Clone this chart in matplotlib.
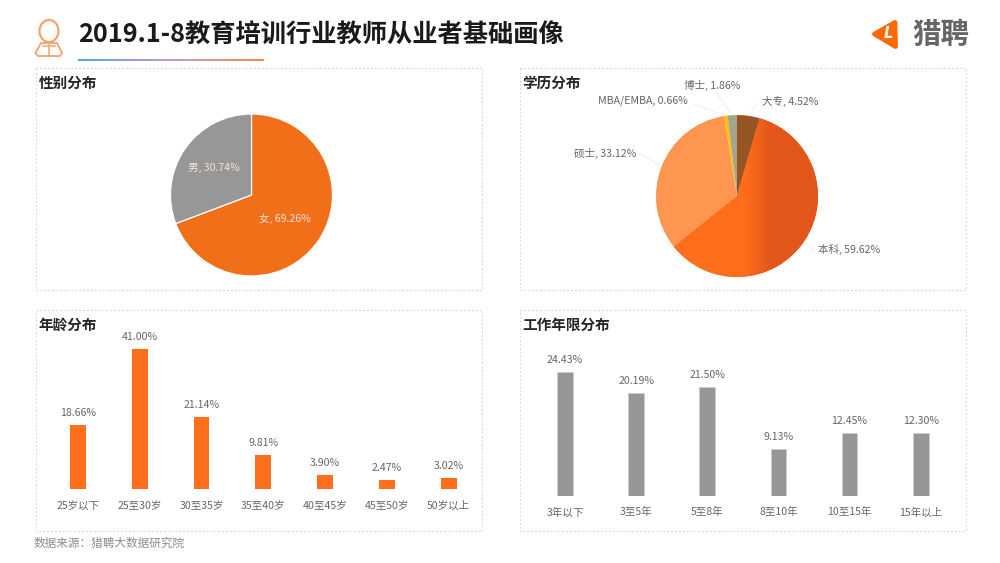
import matplotlib
matplotlib.use("Agg")
import matplotlib.pyplot as plt
from matplotlib.colors import LinearSegmentedColormap
from matplotlib.patches import Ellipse, Polygon, Rectangle, Wedge
import numpy as np

plt.rcParams['font.family'] = ['Noto Sans CJK SC', 'DejaVu Sans']

## data

title = "2019.1-8教育培训行业教师从业者基础画像"
source = "数据来源：猎聘大数据研究院"

gender_names = ["女", "男"]
gender_values = [69.26, 30.74]

edu_names = ["大专", "本科", "硕士", "MBA/EMBA", "博士"]
edu_values = [4.52, 59.62, 33.12, 0.66, 1.86]

age_names = ["25岁以下", "25至30岁", "30至35岁", "35至40岁", "40至45岁", "45至50岁", "50岁以上"]
age_values = [18.66, 41.00, 21.14, 9.81, 3.90, 2.47, 3.02]

work_names = ["3年以下", "3至5年", "5至8年", "8至10年", "10至15年", "15年以上"]
work_values = [24.43, 20.19, 21.50, 9.13, 12.45, 12.30]

W, H = 1000, 563
ORANGE = "#F26F1A"
GRAY = "#979797"
TEXT = "#666666"

fig = plt.figure(figsize=(W / 100, H / 100), dpi=100, facecolor="white")


def px_axes(x0, y0, x1, y1, **kw):
    # axes from pixel box, y counted from the top like in the picture
    return fig.add_axes([x0 / W, 1 - y1 / H, (x1 - x0) / W, (y1 - y0) / H], **kw)


# background layer in pixel coords
bg = px_axes(0, 0, W, H)
bg.set_xlim(0, W)
bg.set_ylim(H, 0)
bg.axis("off")

# dashed panels
for (x0, y0, x1, y1), name in zip(
    [(36, 68, 482, 290), (520, 68, 966, 290), (36, 310, 482, 531), (520, 310, 966, 531)],
    ["性别分布", "学历分布", "年龄分布", "工作年限分布"],
):
    bg.add_patch(Rectangle((x0, y0), x1 - x0, y1 - y0, fill=False, ec="#d6d6d6", lw=0.8, ls=(0, (1.5, 2))))
    bg.text(x0 + 2.5, y0 + 15, name, fontsize=10.5, fontweight="bold", color="#262626", va="center")

# header
bg.text(78, 35.5, title, fontsize=18.2, fontweight="bold", color="#1a1a1a", va="center")
bg.text(34, 543.5, source, fontsize=8.4, color="#8c8c8c", va="center")

ul = px_axes(78, 59, 264, 61)
ul.imshow(np.linspace(0, 1, 200)[None, :], aspect="auto",
          cmap=LinearSegmentedColormap.from_list("ul", ["#4FA8F0", "#C79AC8", "#FF8A3C"]))
ul.axis("off")

# person icon
ic = "#F4A468"
bg.add_patch(Ellipse((49, 31), 19, 22, fill=False, ec=ic, lw=1.6))
bg.add_patch(Polygon([(41, 43), (35.5, 53), (38, 56), (60, 56), (62, 53), (57, 43)], closed=True,
                     fill=False, ec=ic, lw=1.3, joinstyle="round"))
bg.plot([49, 49], [44, 56], color=ic, lw=1.1)
bg.plot([43, 55], [46, 46], color=ic, lw=1.1)

# logo
bg.add_patch(Polygon([(874.5, 34), (895, 22.5), (895.5, 46.5)], closed=True, fc="#FF6A00", ec="#FF6A00", lw=3.5, joinstyle="round"))
bg.text(888, 34, "L", fontsize=10.5, fontweight="bold", style="italic", color="white", ha="center", va="center",
        family="DejaVu Sans")
bg.text(941, 34.5, "猎聘", fontsize=20.5, fontweight="bold", color="#666666", ha="center", va="center")


def pie_axes(cx, cy, r):
    return px_axes(cx - r, cy - r, cx + r, cy + r)


# gender pie
ax = pie_axes(251.5, 195, 81)
ax.pie(gender_values, colors=[ORANGE, GRAY], startangle=90, counterclock=False, radius=1,
       wedgeprops=dict(edgecolor="white", linewidth=0.9))
ax.set_xlim(-1, 1)
ax.set_ylim(-1, 1)
for name, val, (x, y) in zip(gender_names, gender_values, [(285, 218.5), (214, 167.5)]):
    fig.text(x / W, 1 - y / H, f"{name}, {val:.2f}%", fontsize=7.6, color="#F3E3D8", ha="center", va="center", zorder=5)

# education pie
ax = pie_axes(737, 196, 81)
wedges, _ = ax.pie(edu_values, colors=["#975524", "#E5591A", "#FF964F", "#FFC000", "#A5A58D"],
                   startangle=90, counterclock=False, radius=1)
# 本科 slice goes from bright orange to dark orange left to right
grad = LinearSegmentedColormap.from_list("ben", [(0, "#FF6E1B"), (0.55, "#FF6E1B"), (0.7, "#E4571A"), (1, "#E4571A")])
im = ax.imshow(np.linspace(0, 1, 200)[None, :], extent=(-1, 1, -1, 1), aspect="auto", cmap=grad, zorder=2)
im.set_clip_path(Wedge((0, 0), 1, wedges[1].theta1, wedges[1].theta2, transform=ax.transData))
ax.set_xlim(-1, 1)
ax.set_ylim(-1, 1)
ax.set_aspect("equal")

label_pos = [(790.5, 101), (849, 249), (605.5, 153), (643, 101), (712.5, 85)]
line_to = [(757, 103), (815, 252), (640, 153), (693, 104), (716, 92)]
for w, name, val, (x, y), (lx, ly) in zip(wedges, edu_names, edu_values, label_pos, line_to):
    mid = np.deg2rad((w.theta1 + w.theta2) / 2)
    # leader line from the slice edge out to the label
    ax.annotate("", xy=(np.cos(mid), np.sin(mid)), xytext=(lx, ly), textcoords=bg.transData,
                arrowprops=dict(arrowstyle="-", color="#ececec", lw=0.6, shrinkA=0, shrinkB=0),
                annotation_clip=False)
    fig.text(x / W, 1 - y / H, f"{name}, {val:.2f}%", fontsize=7.6, color=TEXT, ha="center", va="center")


def bar_panel(names, values, color, first, last, top, base, **bar_kw):
    # first/last are the pixel centres of the outer bars, top is the pixel of the tallest bar
    step = (last - first) / (len(values) - 1)
    ax = px_axes(first - step / 2, top, last + step / 2, base)
    xs = np.arange(len(values))
    bars = ax.bar(xs, values, width=15.7 / step, color=color, **bar_kw)
    ax.set_xlim(-0.5, len(values) - 0.5)
    ax.set_ylim(0, max(values))
    ax.set_xticks(xs, names, fontsize=7.6, color=TEXT)
    ax.tick_params(axis="x", length=0, pad=8.3)
    ax.set_yticks([])
    for s in ax.spines.values():
        s.set_visible(False)
    ax.patch.set_alpha(0)
    labels = ax.bar_label(bars, labels=[f"{v:.2f}%" for v in values], padding=5, fontsize=7.6, color=TEXT)
    for t in labels:
        t.set_clip_on(False)
    return ax


bar_panel(age_names, age_values, "#FF6E1B", 78, 448.7, 349, 488.7)
bar_panel(work_names, work_values, "#969696", 565, 920.7, 371.7, 495.7,
          edgecolor="#cfcfcf", linewidth=0.7, linestyle=(0, (1.5, 1.5)))

fig.savefig("out.png", dpi=100)
